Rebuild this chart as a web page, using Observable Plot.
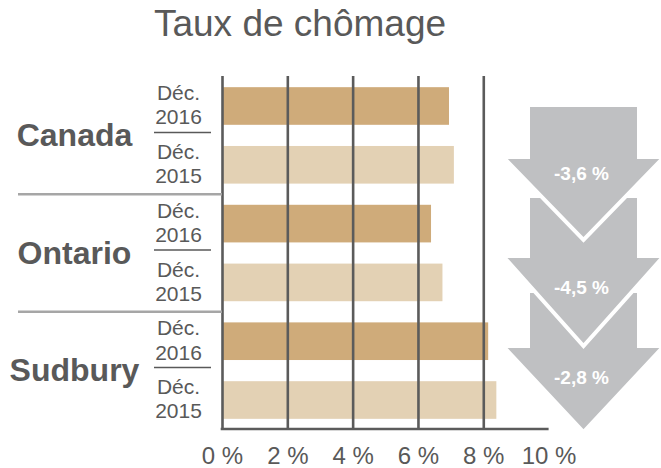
<!DOCTYPE html>
<html><head><meta charset="utf-8">
<script src="https://cdn.jsdelivr.net/npm/d3@7"></script>
<script src="https://cdn.jsdelivr.net/npm/@observablehq/plot@0.6"></script>
<style>
html,body{margin:0;padding:0;background:#fff;}
#wrap{position:relative;width:661px;height:468px;font-family:"Liberation Sans",Arial,sans-serif;overflow:hidden;}
#title{position:absolute;left:0;width:600px;top:5px;margin:0;text-align:center;font-size:37px;line-height:37px;color:#595959;font-weight:normal;z-index:2;}
#chart{position:absolute;left:0;top:0;}
</style></head><body>
<div id="wrap"><h1 id="title"></h1><div id="chart"></div></div>
<script>
const title = "Taux de chômage";
const regions = ["Canada", "Ontario", "Sudbury"];
const periods = ["Déc.\n2016", "Déc.\n2015"];
const rateDec2016 = [6.95, 6.4, 8.15];
const rateDec2015 = [7.1, 6.75, 8.4];
const changes = ["-3,6 %", "-4,5 %", "-2,8 %"];
const xTicks = [0, 2, 4, 6, 8, 10];
const gridTicks = [2, 4, 6, 8];

document.getElementById("title").textContent = title;

const rows = regions.flatMap((r, i) => [
  {region: r, period: periods[0], key: r + "|2016", value: rateDec2016[i], year: "2016"},
  {region: r, period: periods[1], key: r + "|2015", value: rateDec2015[i], year: "2015"}
]);

const W = 661, H = 468, ML = 222, MR = 112.4, MT = 76, MB = 38;
const gridColor = "#5b5b5b";
const textColor = "#595959";

function decorations(index, scales) {
  const y = scales.y;
  const bw = y.bandwidth(), step = y.step();
  const g = d3.create("svg:g");
  regions.forEach((r, i) => {
    const mid = y(r + "|2016") + bw + (step - bw) / 2;
    g.append("line").attr("x1", ML - 68).attr("x2", ML - 11)
      .attr("y1", mid - 3).attr("y2", mid - 3)
      .attr("stroke", textColor).attr("stroke-width", 1.5);
    if (i < regions.length - 1) {
      const sep = y(r + "|2015") + bw + (step - bw) / 2;
      g.append("line").attr("x1", 18).attr("x2", ML)
        .attr("y1", sep).attr("y2", sep)
        .attr("stroke", "#a6a6a6").attr("stroke-width", 2.6);
    }
  });
  const x = scales.x;
  g.append("line").attr("x1", ML - 1.3).attr("x2", x(10))
    .attr("y1", H - MB - 1).attr("y2", H - MB - 1)
    .attr("stroke", gridColor).attr("stroke-width", 2.6);
  return g.node();
}

function arrows() {
  const cx = 583.5, shaftHalf = 55.5, headHalf = 80.5;
  const layout = [
    {top: 105, head: 157, tip: 240, label: 173},
    {top: 196, head: 256, tip: 346, label: 287},
    {top: 291, head: 346, tip: 432, label: 377}
  ];
  const g = d3.create("svg:g");
  for (let i = changes.length - 1; i >= 0; --i) {
    const a = layout[i];
    const pts = [
      [cx - shaftHalf, a.top], [cx + shaftHalf, a.top], [cx + shaftHalf, a.head],
      [cx + headHalf, a.head], [cx, a.tip], [cx - headHalf, a.head], [cx - shaftHalf, a.head]
    ];
    g.append("path").attr("d", "M" + pts.join("L") + "Z")
      .attr("fill", "#bfc0c2").attr("stroke", "#fff").attr("stroke-width", 4)
      .attr("stroke-linejoin", "miter");
  }
  changes.forEach((c, i) => {
    g.append("text").attr("x", cx - 2).attr("y", layout[i].label).attr("dy", "0.35em")
      .attr("text-anchor", "middle").attr("fill", "#fff").attr("font-weight", "bold")
      .attr("font-size", 19).text(c);
  });
  return g.node();
}

const chart = Plot.plot({
  width: W, height: H,
  marginLeft: ML, marginRight: MR, marginTop: MT, marginBottom: MB,
  style: {fontFamily: "Liberation Sans, Arial, sans-serif", fontSize: "24px", color: textColor, background: "transparent", overflow: "visible"},
  x: {domain: [0, 10], ticks: xTicks, tickFormat: d => d + " %", tickSize: 0, tickPadding: 16, label: null},
  y: {domain: rows.map(d => d.key), paddingInner: 0.36, paddingOuter: 0.19, axis: null, round: false},
  color: {domain: ["2016", "2015"], range: ["#cfab7a", "#e3d1b4"]},
  marks: [
    Plot.barX(rows, {x: "value", y: "key", fill: "year"}),
    Plot.ruleX(gridTicks, {stroke: gridColor, strokeWidth: 2.6}),
    Plot.ruleX([0], {stroke: gridColor, strokeWidth: 2.6}),
    decorations,
    Plot.text(rows.filter(d => d.year === "2016"), {
      y: "key", text: "region", frameAnchor: "left", dx: -148, dy: 29.5,
      fontSize: 32, fontWeight: "bold", fill: textColor, textAnchor: "middle"
    }),
    Plot.text(rows, {
      y: "key", text: "period", frameAnchor: "left", dx: -44, dy: -2,
      fontSize: 21, lineHeight: 1.15, fill: textColor, textAnchor: "middle"
    }),
    arrows
  ]
});
document.getElementById("chart").appendChild(chart);
</script>
</body></html>
